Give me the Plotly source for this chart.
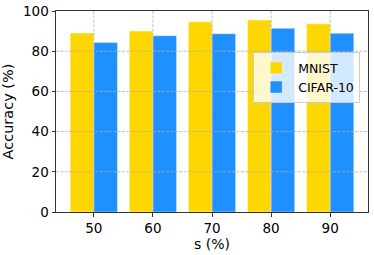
import plotly.graph_objects as go

s_values = [50, 60, 70, 80, 90]
mnist = [89.0, 90.0, 94.6, 95.5, 93.6]
cifar = [84.3, 87.7, 88.7, 91.4, 88.9]
y_ticks = [0, 20, 40, 60, 80, 100]

fig = go.Figure()
fig.add_trace(go.Bar(x=s_values, y=mnist, name="MNIST", marker_color="#FFD700",
                     marker_line=dict(color="rgba(255,255,255,0.5)", width=0.8)))
fig.add_trace(go.Bar(x=s_values, y=cifar, name="CIFAR-10", marker_color="#1E90FF",
                     marker_line=dict(color="rgba(255,255,255,0.5)", width=0.8)))

grid = dict(color="#b0b0b0", width=0.8, dash="3px,1.4px")
shapes = []
for xv in s_values:
    shapes.append(dict(type="line", xref="x", yref="paper", x0=xv, x1=xv, y0=0, y1=1,
                       line=grid, layer="above"))
for yv in y_ticks[1:-1]:
    shapes.append(dict(type="line", xref="paper", yref="y", x0=0, x1=1, y0=yv, y1=yv,
                       line=grid, layer="above"))

fig.update_layout(
    width=374, height=255,
    margin=dict(l=56, r=6, t=11, b=43, autoexpand=False),
    paper_bgcolor="white", plot_bgcolor="white",
    font=dict(family="DejaVu Sans", size=13.5, color="black"),
    barmode="group", bargap=0.2, bargroupgap=0,
    shapes=shapes,
    showlegend=True,
    legend=dict(x=0.975, y=0.795, xanchor="right", yanchor="top",
                bgcolor="rgba(255,255,255,0.8)", bordercolor="#cccccc", borderwidth=1,
                font=dict(size=12.5), tracegroupgap=0, itemwidth=34),
    xaxis=dict(range=[43.6, 96.4], tickmode="array", tickvals=s_values,
               ticktext=[str(v) for v in s_values],
               showgrid=False, zeroline=False, automargin=False,
               showline=True, linecolor="#333333", linewidth=1, mirror=True,
               ticks="outside", ticklen=3.5, tickcolor="#333333",
               title=dict(text="s (%)", standoff=2, font=dict(size=14))),
    yaxis=dict(range=[0, 100], tickmode="array", tickvals=y_ticks,
               showgrid=False, zeroline=False, automargin=False,
               showline=True, linecolor="#333333", linewidth=1, mirror=True,
               ticks="outside", ticklen=3.5, tickcolor="#333333",
               title=dict(text="Accuracy (%)", standoff=5, font=dict(size=14.5))),
)

fig.write_html("out.html",
               config={"displayModeBar": False},
               post_script="document.body.style.margin='0';document.body.style.overflow='hidden';")
